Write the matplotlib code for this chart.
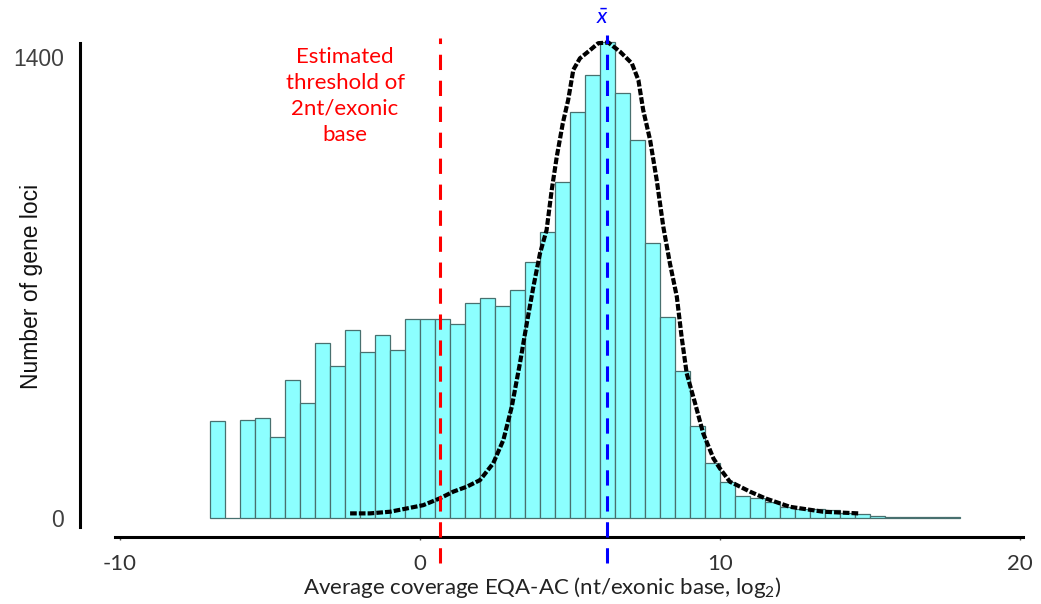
"""Coverage histogram of gene loci with fitted density, threshold and mean lines."""

import matplotlib
import numpy as np

matplotlib.use("Agg")
import matplotlib.pyplot as plt

matplotlib.rcParams["font.family"] = ["Lato", "DejaVu Sans"]
matplotlib.rcParams["mathtext.fontset"] = "custom"
matplotlib.rcParams["mathtext.rm"] = "Lato"
matplotlib.rcParams["mathtext.it"] = "Lato:italic"
matplotlib.rcParams["axes.unicode_minus"] = False

# histogram: bins of 0.5 (log2 coverage) starting at -7
HIST_START = -7.0
BIN_WIDTH = 0.5
counts = [295, 0, 297, 305, 247, 419, 348, 532, 462, 571,
          505, 555, 510, 604, 604, 604, 589, 651, 667, 644,
          692, 778, 869, 1021, 1233, 1344, 1446, 1291, 1147, 834,
          611, 445, 280, 166, 109, 68, 62, 50, 34, 27,
          27, 24, 15, 12, 5, 4, 3, 3, 2, 2]

# fitted curve (dashed black)
curve_x = [-2.33, -1.67, -1.0, -0.44, 0.11, 0.67, 1.11, 1.56, 2.0, 2.44,
           2.78, 3.06, 3.33, 3.56, 3.78, 4.0, 4.22, 4.39, 4.56, 4.76,
           4.94, 5.11, 5.33, 5.67, 5.94, 6.28, 6.67, 7.06, 7.28, 7.44,
           7.67, 7.89, 8.11, 8.33, 8.56, 8.72, 8.89, 9.17, 9.44, 9.78,
           10.0, 10.33, 10.56, 11.0, 11.5, 12.33, 13.44, 14.61]
curve_y = [14, 14, 19, 29, 39, 60, 80, 95, 115, 166,
           237, 338, 469, 591, 702, 803, 874, 995, 1097, 1198,
           1269, 1360, 1395, 1420, 1441, 1443, 1415, 1380, 1329, 1238,
           1147, 1026, 884, 773, 672, 550, 439, 348, 257, 181,
           150, 110, 100, 80, 60, 34, 19, 14]

threshold = 0.65
mean_val = 6.22
x_ticks = [-10, 0, 10, 20]
y_ticks = [0, 1400]

W, H = 1041, 604


def main():
    fig = plt.figure(figsize=(W / 100, H / 100), dpi=100)
    ax = fig.add_axes([80 / W, (H - 537) / H, (W - 80) / W, 537 / H])
    # pixel mapping: px = 420 + 30*x ; py = 518 - 0.3295*count
    ax.set_xlim((80 - 420) / 30, (W - 420) / 30)
    ax.set_ylim((518 - 537) / 0.3295, 518 / 0.3295)

    lefts = HIST_START + BIN_WIDTH * np.arange(len(counts))
    ax.bar(lefts, counts, width=BIN_WIDTH, align="edge", color="#8cffff",
           edgecolor="#48706f", linewidth=0.9, zorder=2)

    ax.plot(curve_x, curve_y, color="black", lw=3.0,
            linestyle=(0, (1.6, 0.5)), zorder=4)

    ax.axvline(threshold, ymin=-0.048, ymax=0.929, color="#ff0000", lw=2.2,
               linestyle=(0, (5, 3.5)), clip_on=False, zorder=5)
    ax.axvline(mean_val, ymin=-0.048, ymax=0.935, color="#0000ff", lw=2.2,
               linestyle=(0, (5, 3.5)), clip_on=False, zorder=5)

    ax.text(-2.5, 1281, "Estimated\nthreshold of\n2nt/exonic\nbase",
            color="#ff0000", fontsize=16, ha="center", va="center",
            linespacing=1.38)
    ax.text(mean_val - 0.12, (518 - 18) / 0.3295, r"$\bar{x}$", color="#0000ff",
            fontsize=16, ha="center", va="center")

    for s in ("top", "right"):
        ax.spines[s].set_visible(False)
    ax.spines["left"].set_linewidth(2.2)
    ax.spines["left"].set_bounds(-27, 1443)
    ax.spines["bottom"].set_linewidth(2.2)
    ax.spines["bottom"].set_bounds(-10.17, 20.1)

    ax.set_yticks(y_ticks)
    ax.tick_params(axis="y", length=0, pad=11.5, labelsize=16.5,
                   labelcolor="#404040")
    for lab in ax.get_yticklabels():
        lab.set_family(["Liberation Sans", "DejaVu Sans"])
    ax.set_xticks(x_ticks)
    ax.tick_params(axis="x", length=2, width=1, color="#555555", pad=10,
                   labelsize=16, labelcolor="#333333")

    ax.set_xlabel("Average coverage EQA-AC (nt/exonic base, log$_2$)",
                  fontsize=16, color="#222222")
    ax.xaxis.set_label_coords((542 - 80) / (W - 80), (537 - 588) / 537)
    ax.xaxis.label.set_va("center")
    ax.set_ylabel("Number of gene loci", fontsize=16.5, color="#111111",
                  family=["Liberation Sans", "DejaVu Sans"])
    ax.yaxis.set_label_coords((32 - 80) / (W - 80), (537 - 286) / 537)
    ax.yaxis.label.set_va("center")

    fig.savefig("out.png")


if __name__ == "__main__":
    main()
